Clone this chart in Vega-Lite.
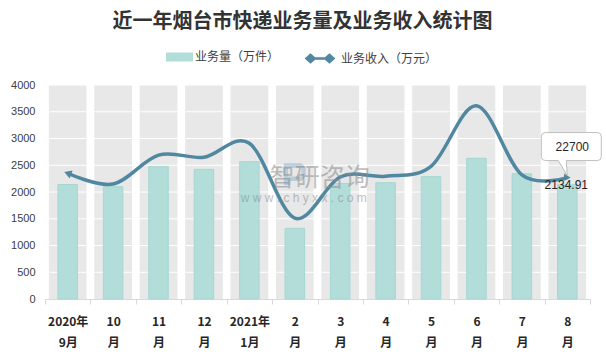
{
  "$schema": "https://vega.github.io/schema/vega-lite/v6.json",
  "autosize": "none",
  "width": 545,
  "height": 214,
  "padding": {"left": 45, "top": 85, "right": 16, "bottom": 65},
  "background": "white",
  "title": {
    "text": "近一年烟台市快递业务量及业务收入统计图",
    "font": "Noto Sans CJK SC",
    "fontSize": 20,
    "fontWeight": "bold",
    "color": "#333333",
    "anchor": "middle",
    "dx": -15,
    "offset": 16
  },
  "config": {
    "view": {"stroke": null},
    "font": "Noto Sans CJK SC",
    "axisY": {
      "grid": false,
      "domain": false,
      "ticks": false,
      "labelFont": "Liberation Sans",
      "labelFontSize": 11,
      "labelColor": "#404040",
      "labelPadding": 10
    }
  },
  "datasets": {
    "main": [
      {"month": "2020年\n9月", "vol": 2140, "rev": 2350},
      {"month": "10\n月", "vol": 2100, "rev": 2150},
      {"month": "11\n月", "vol": 2474, "rev": 2690},
      {"month": "12\n月", "vol": 2424, "rev": 2650},
      {"month": "2021年\n1月", "vol": 2567, "rev": 2910},
      {"month": "2\n月", "vol": 1320, "rev": 1510},
      {"month": "3\n月", "vol": 2162, "rev": 2280},
      {"month": "4\n月", "vol": 2174, "rev": 2295},
      {"month": "5\n月", "vol": 2287, "rev": 2480},
      {"month": "6\n月", "vol": 2630, "rev": 3610},
      {"month": "7\n月", "vol": 2342, "rev": 2320},
      {"month": "8\n月", "vol": 2134.91, "rev": 2270}
    ],
    "grid": [
      {"v": 500}, {"v": 1000}, {"v": 1500}, {"v": 2000},
      {"v": 2500}, {"v": 3000}, {"v": 3500}, {"v": 4000}
    ],
    "startPt": [{"month": "2020年\n9月", "rev": 2350}],
    "endPt": [{"month": "8\n月", "rev": 2270, "vol": 2134.91, "callout": "22700", "label": "2134.91"}],
    "wm": [{"month": "2\n月", "y": 2330, "t1": "智研咨询", "t2": "w w w . c h y x x . c o m"}]
  },
  "layer": [
    {
      "data": {"name": "main"},
      "mark": {"type": "bar", "color": "#e8e8e8", "width": {"band": 0.83}},
      "encoding": {
        "x": {
          "field": "month",
          "type": "nominal",
          "sort": null,
          "scale": {"paddingInner": 0, "paddingOuter": 0},
          "axis": {
            "title": null,
            "labelAngle": 0,
            "labelExpr": "split(datum.label, '\\n')",
            "labelFont": "Noto Sans CJK SC",
            "labelFontWeight": "bold",
            "labelFontSize": 12,
            "labelColor": "#262626",
            "labelLineHeight": 21,
            "labelPadding": 12,
            "labelBaseline": "top",
            "domainColor": "#d9d9d9",
            "tickColor": "#d9d9d9",
            "tickBand": "extent",
            "tickSize": 5,
            "grid": false
          }
        },
        "y": {
          "datum": 4000,
          "type": "quantitative",
          "scale": {"domain": [0, 4000], "nice": false},
          "axis": {"title": null, "format": "d", "tickCount": 8}
        }
      }
    },
    {
      "data": {"name": "grid"},
      "mark": {"type": "rule", "color": "white", "strokeWidth": 1},
      "encoding": {"y": {"field": "v", "type": "quantitative", "axis": {"title": null, "format": "d", "tickCount": 8}}}
    },
    {
      "data": {"name": "main"},
      "mark": {"type": "bar", "width": {"band": 0.43}, "stroke": "#a6d7d2", "strokeWidth": 1},
      "encoding": {
        "x": {"field": "month", "type": "nominal", "sort": null},
        "y": {"field": "vol", "type": "quantitative", "axis": {"title": null, "format": "d", "tickCount": 8}},
        "fill": {
          "datum": "业务量（万件）",
          "scale": {"range": ["#b2ddd9"]},
          "legend": {
            "title": null,
            "orient": "none",
            "legendX": 125.5,
            "legendY": -37,
            "symbolType": "M-1.5,-0.5H1.5V0.5H-1.5Z",
            "symbolSize": 324,
            "symbolStrokeWidth": 0,
            "labelOffset": 6.5,
            "labelFont": "Noto Sans CJK SC",
            "labelFontSize": 12,
            "labelColor": "#404040"
          }
        }
      }
    },
    {
      "data": {"name": "main"},
      "mark": {"type": "line", "interpolate": "cardinal", "tension": 0, "strokeWidth": 3.5},
      "encoding": {
        "x": {"field": "month", "type": "nominal", "sort": null},
        "y": {"field": "rev", "type": "quantitative", "axis": {"title": null, "format": "d", "tickCount": 8}},
        "stroke": {
          "datum": "业务收入（万元）",
          "scale": {"range": ["#5087a1"]},
          "legend": {
            "title": null,
            "orient": "none",
            "legendX": 264.5,
            "legendY": -37,
            "symbolType": "M-1.3,0H1.3M-1.5,0L-1.05,-0.4L-0.6,0L-1.05,0.4Z M1.5,0L1.05,-0.4L0.6,0L1.05,0.4Z",
            "symbolSize": 324,
            "symbolStrokeWidth": 2.5,
            "symbolFillColor": "#5087a1",
            "labelOffset": 10.5,
            "labelFont": "Noto Sans CJK SC",
            "labelFontSize": 12,
            "labelColor": "#404040"
          }
        }
      }
    },
    {
      "data": {"name": "startPt"},
      "mark": {"type": "point", "shape": "triangle-left", "filled": true, "color": "#5087a1", "size": 70, "angle": 20, "opacity": 1},
      "encoding": {
        "x": {"field": "month", "type": "nominal", "sort": null},
        "y": {"field": "rev", "type": "quantitative"}
      }
    },
    {
      "data": {"name": "endPt"},
      "mark": {"type": "point", "shape": "triangle-right", "filled": true, "color": "#5087a1", "size": 60, "angle": 5, "opacity": 1},
      "encoding": {
        "x": {"field": "month", "type": "nominal", "sort": null},
        "y": {"field": "rev", "type": "quantitative"}
      }
    },
    {
      "data": {"name": "endPt"},
      "mark": {
        "type": "point",
        "shape": "M-22,-45H30Q34,-45 34,-41V-21Q34,-17 30,-17H-1L0,-2L-9,-17H-22Q-26,-17 -26,-21V-41Q-26,-45 -22,-45Z",
        "size": 4,
        "filled": true,
        "fill": "white",
        "stroke": "#bfbfbf",
        "strokeWidth": 1,
        "opacity": 1
      },
      "encoding": {
        "x": {"field": "month", "type": "nominal", "sort": null},
        "y": {"field": "rev", "type": "quantitative"}
      }
    },
    {
      "data": {"name": "endPt"},
      "mark": {"type": "text", "font": "Liberation Sans", "fontSize": 12, "color": "#262626", "dx": 5, "dy": -31, "baseline": "middle", "align": "center"},
      "encoding": {
        "x": {"field": "month", "type": "nominal", "sort": null},
        "y": {"field": "rev", "type": "quantitative"},
        "text": {"field": "callout"}
      }
    },
    {
      "data": {"name": "endPt"},
      "mark": {"type": "text", "font": "Liberation Sans", "fontSize": 12, "color": "#262626", "dx": -1, "dy": 0, "baseline": "middle", "align": "center"},
      "encoding": {
        "x": {"field": "month", "type": "nominal", "sort": null},
        "y": {"field": "vol", "type": "quantitative"},
        "text": {"field": "label"}
      }
    },
    {
      "data": {"name": "wm"},
      "mark": {"type": "point", "shape": "M-1,-1H0.6L1,-0.6V0.2L0.6,0.6H-0.4V1H-1ZM-0.6,-0.6V0.2H0.6V-0.6Z", "filled": true, "color": "#8fb4cc", "opacity": 0.55, "size": 484, "dx": -50, "dy": 2},
      "encoding": {
        "x": {"field": "month", "type": "nominal", "sort": null},
        "y": {"field": "y", "type": "quantitative"}
      }
    },
    {
      "data": {"name": "wm"},
      "mark": {"type": "text", "font": "Noto Sans CJK SC", "fontSize": 25, "color": "#8c8c8c", "opacity": 0.55, "dx": 25, "dy": 4, "baseline": "middle", "align": "center"},
      "encoding": {
        "x": {"field": "month", "type": "nominal", "sort": null},
        "y": {"field": "y", "type": "quantitative"},
        "text": {"field": "t1"}
      }
    },
    {
      "data": {"name": "wm"},
      "mark": {"type": "text", "font": "Liberation Sans", "fontSize": 12, "color": "#8c8c8c", "opacity": 0.55, "dx": 9, "dy": 24, "baseline": "middle", "align": "center"},
      "encoding": {
        "x": {"field": "month", "type": "nominal", "sort": null},
        "y": {"field": "y", "type": "quantitative"},
        "text": {"field": "t2"}
      }
    }
  ]
}
